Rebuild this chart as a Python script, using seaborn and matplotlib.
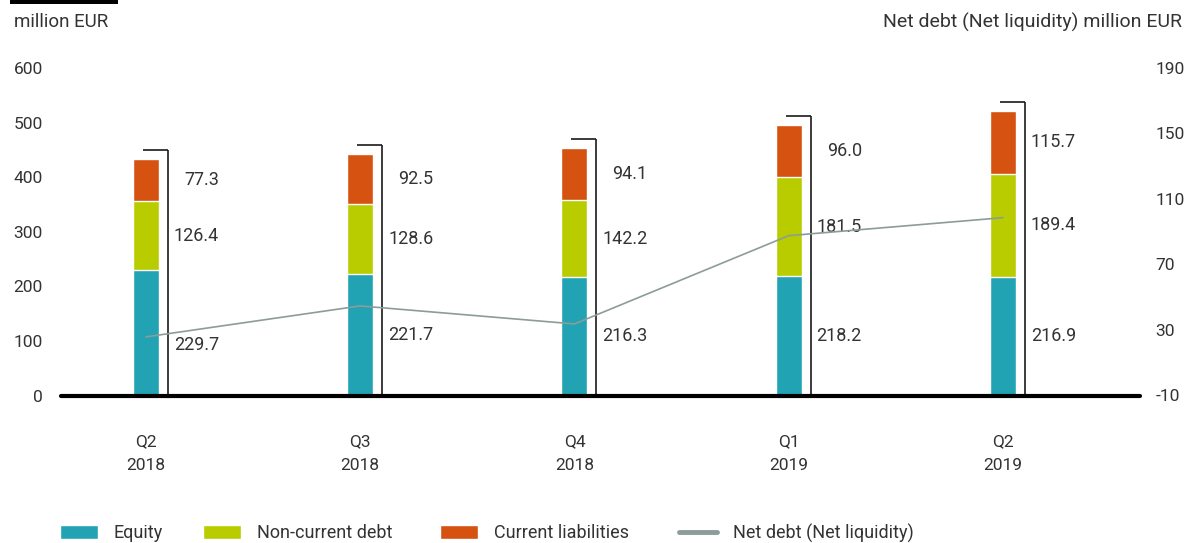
import numpy as np
import matplotlib
matplotlib.use("Agg")
import matplotlib.pyplot as plt
from matplotlib.patches import Patch, Rectangle
from matplotlib.lines import Line2D
import seaborn as sns

# ---- data ----
categories = ["Q2\n2018", "Q3\n2018", "Q4\n2018", "Q1\n2019", "Q2\n2019"]
equity = [229.7, 221.7, 216.3, 218.2, 216.9]
noncurrent_debt = [126.4, 128.6, 142.2, 181.5, 189.4]
current_liab = [77.3, 92.5, 94.1, 96.0, 115.7]
net_debt = [25.8, 44.7, 33.7, 87.6, 98.6]
left_ticks = [0, 100, 200, 300, 400, 500, 600]
right_ticks = [-10, 30, 70, 110, 150, 190]
series_names = ["Equity", "Non-current debt", "Current liabilities", "Net debt (Net liquidity)"]

# ---- style ----
C_EQ = "#21A3B3"
C_NC = "#B8CC00"
C_CL = "#D65211"
C_ND = "#8C9C9A"
TXT = "#333333"

sns.set_style("white")
plt.rcParams["font.family"] = ["Roboto", "DejaVu Sans"]
plt.rcParams["text.color"] = TXT
plt.rcParams["axes.unicode_minus"] = False

W, H = 1187, 543
fig = plt.figure(figsize=(W / 100, H / 100), dpi=100)
y0, y1 = 395.5, 68
ax = fig.add_axes([61 / W, 1 - y0 / H, (1140 - 61) / W, (y0 - y1) / H])

eq = np.array(equity)
nc = np.array(noncurrent_debt)
cl = np.array(current_liab)
tot = eq + nc + cl
x = np.arange(len(categories))
bw = 0.1215

sns.barplot(x=categories, y=tot, color=C_CL, width=bw, saturation=1, ax=ax, zorder=2)
sns.barplot(x=categories, y=eq + nc, color=C_NC, width=bw, saturation=1, ax=ax, zorder=2)
sns.barplot(x=categories, y=eq, color=C_EQ, width=bw, saturation=1, ax=ax, zorder=2)

ax.set_ylim(0, 600)
ax.set_xlim(-0.397, 4.64)
ax.set_yticks(left_ticks)
ax.set_xlabel("")
ax.set_ylabel("")
ax.tick_params(axis="y", length=0, pad=13, labelsize=12.5, labelcolor=TXT)
ax.tick_params(axis="x", length=0, pad=28, labelsize=12.5, labelcolor=TXT)
for lab in ax.get_xticklabels():
    lab.set_linespacing(1.7)
for s in ax.spines.values():
    s.set_visible(False)

# brackets and value labels
px = 1 / 214.0          # one pixel in x data units
py = 600 / (y0 - y1)    # one pixel in y data units
eq_label_shift = [-12, 0, 0, 0, 0]   # pixel shift of equity labels (avoid line)
for i in x:
    top = tot[i] + 9 * py
    xr = i + 22 * px
    ax.plot([xr, xr], [0, top], color="#1a1a1a", lw=1.2, zorder=3, solid_capstyle="butt")
    ax.plot([i - 3 * px, xr], [top, top], color="#1a1a1a", lw=1.2, zorder=3, solid_capstyle="butt")
    xl = i + 73 * px
    ax.text(xl, eq[i] / 2 + eq_label_shift[i] * py, f"{eq[i]:.1f}", ha="right", va="center",
            fontsize=13, color=TXT, zorder=6)
    ax.text(xl, eq[i] + nc[i] / 2, f"{nc[i]:.1f}", ha="right", va="center", fontsize=13, color=TXT, zorder=6)
    ax.text(xl, eq[i] + nc[i] + cl[i] / 2, f"{cl[i]:.1f}", ha="right", va="center", fontsize=13,
            color=TXT, zorder=6)

ax.axhline(0, color="black", lw=3, zorder=4, clip_on=False)

ax2 = ax.twinx()
sns.lineplot(x=x, y=net_debt, color=C_ND, lw=1.2, ax=ax2, zorder=5)
ax2.set_ylim(-10, 190)
ax2.set_yticks(right_ticks)
ax2.set_ylabel("")
ax2.tick_params(axis="y", length=0, pad=11, labelsize=12.5, labelcolor=TXT)
for s in ax2.spines.values():
    s.set_visible(False)
ax.set_xlim(-0.397, 4.64)

# titles
fig.text(14 / W, 1 - 22 / H, "million EUR", ha="left", va="center", fontsize=13.5, color=TXT)
fig.text(1182 / W, 1 - 22 / H, "Net debt (Net liquidity) million EUR", ha="right", va="center",
         fontsize=14, color=TXT)
fig.patches.append(Rectangle((10 / W, 1 - 4 / H), 108 / W, 4 / H, transform=fig.transFigure,
                             facecolor="black", edgecolor="none"))

# legend
handles = [Patch(facecolor=C_EQ), Patch(facecolor=C_NC), Patch(facecolor=C_CL),
           Line2D([], [], color=C_ND, lw=3.5)]
xpos = [60, 203, 440, 679]
for h, name, xp in zip(handles, series_names, xpos):
    fig.legend(handles=[h], labels=[name], loc="center left",
               bbox_to_anchor=(xp / W, 1 - 533 / H), frameon=False, fontsize=13,
               handlelength=2.13, handleheight=0.8, handletextpad=0.86,
               borderpad=0, borderaxespad=0, labelcolor=TXT)

fig.savefig("out.png", dpi=100)
